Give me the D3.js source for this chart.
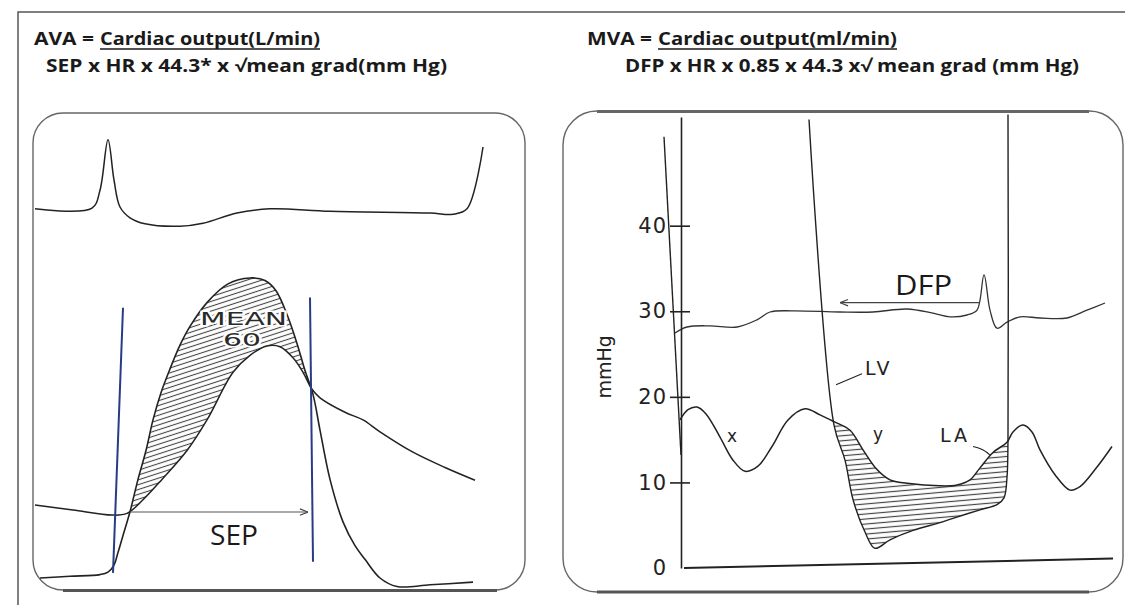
<!DOCTYPE html>
<html>
<head>
<meta charset="utf-8">
<script src="https://cdn.jsdelivr.net/npm/d3@7"></script>
<style>
  body { margin: 0; background: #fff; }
  svg { display: block; }
</style>
</head>
<body>
<svg id="chart" width="1125" height="605"></svg>
<script>
// ---- left panel (aortic stenosis), [time ms, value] ----
const ecgLeft = [[0,0.02],[114,0.03],[130,0.33],[146,1.17],[158,0.5],[170,0.05],[190,-0.13],[220,-0.23],[290,-0.27],[336,-0.22],[404,-0.05],[470,0.02],[590,-0.02],[790,-0.05],[836,-0.07],[864,0.02],[896,1.05]];
const lvLeft = [[10,10],[70,11],[130,12],[146,13.5],[158,17.6],[166,25],[176,35],[190,49],[206,68],[222,85],[236,103],[252,119],[270,133],[290,147],[310,158],[344,172],[386,183],[430,186.5],[460,185],[482,179],[504,165],[524,148],[540,132],[556,118],[570,97],[590,68],[616,43],[640,29],[660,21],[690,10],[724,5],[790,6],[876,7.6]];
const aorticLeft = [[0,53],[76,50],[154,47],[184,48],[216,56],[254,68],[304,85],[344,103],[396,131],[430,141],[464,146.5],[490,146],[516,139.5],[536,131],[554,121],[570,116],[620,107.5],[656,103],[690,96],[756,84],[820,75],[880,67.5]];
const ejectionMarks = [[176,169,156,13],[550,175,556,19.5]];   // t0,p0,t1,p1
const sepSpan = [190, 546, 48.8];

// ---- right panel (mitral stenosis) ----
const ecgRight = [[0,-0.3],[24,-0.2],[70,-0.18],[124,-0.2],[164,-0.08],[190,0.05],[236,0.07],[330,0.05],[396,0.05],[464,0.1],[516,0.03],[550,-0.03],[584,0],[604,0.08],[618,0.67],[630,0.08],[644,-0.22],[664,-0.12],[690,-0.03],[730,-0.05],[784,-0.05],[824,0.08],[860,0.2]];
const lvPrev = [[-22,50.4],[12,13.2]];
const lvRight = [[268,52.4],[318,16.7],[340,12.6],[356,8],[380,4.2],[400,2.3],[430,3.3],[476,4.4],[530,5.3],[556,5.8],[610,6.8],[644,7.4],[658,8.2],[664,10.6],[666,15],[666,53]];
const laRight = [[10,17.3],[26,18.5],[44,18.8],[62,18],[90,15.3],[116,12.6],[140,11.3],[166,11.9],[194,14.2],[226,17.3],[260,18.6],[290,17.9],[318,17.1],[350,16.1],[376,13.8],[404,11.5],[430,10.3],[464,9.9],[530,9.6],[564,9.7],[590,10.3],[610,11.7],[636,13.5],[664,14.7],[676,15.9],[696,16.7],[714,15.9],[730,13.8],[760,10.9],[790,9.1],[810,9.5],[844,11.8],[874,14.2]];
const baseLine = [[18,0],[876,1.1]];
const dfpSpan = [330, 610, 31];
const mmHgTicks = [0, 10, 20, 30, 40];

const svg = d3.select("#chart");
const ink = "#222";

// scales
const xL = d3.scaleLinear().domain([0, 1000]).range([35, 535]);
const yL = d3.scaleLinear().domain([0, 200]).range([595, 255]);
const yEL = d3.scaleLinear().domain([-1, 2]).range([270, 90]);
const xR = d3.scaleLinear().domain([0, 900]).range([675, 1125]);
const yR = d3.scaleLinear().domain([0, 52.7]).range([568, 117]);
const yER = d3.scaleLinear().domain([-1, 2]).range([375, 195]);

const curve = d3.curveCatmullRom.alpha(0.5);
const mkLine = (x, y) => d3.line().x(d => x(d[0])).y(d => y(d[1])).curve(curve);
const lineL = mkLine(xL, yL), lineEL = mkLine(xL, yEL);
const lineR = mkLine(xR, yR), lineER = mkLine(xR, yER);

// defs: hatches + arrow heads
const defs = svg.append("defs");
defs.append("pattern").attr("id", "hatchL").attr("patternUnits", "userSpaceOnUse")
  .attr("width", 6).attr("height", 4.6).attr("patternTransform", "rotate(-18)")
  .append("line").attr("x1", 0).attr("x2", 6).attr("y1", 2.3).attr("y2", 2.3)
  .attr("stroke", "#444").attr("stroke-width", 1.1);
defs.append("pattern").attr("id", "hatchR").attr("patternUnits", "userSpaceOnUse")
  .attr("width", 6).attr("height", 5).attr("patternTransform", "rotate(-5)")
  .append("line").attr("x1", 0).attr("x2", 6).attr("y1", 2.5).attr("y2", 2.5)
  .attr("stroke", "#444").attr("stroke-width", 1.2);
defs.append("marker").attr("id", "arrow").attr("viewBox", "0 0 10 10")
  .attr("refX", 10).attr("refY", 5).attr("markerWidth", 9).attr("markerHeight", 9)
  .attr("markerUnits", "userSpaceOnUse").attr("orient", "auto-start-reverse")
  .append("path").attr("d", "M1,1.5L10,5L1,8.5").attr("fill", "none").attr("stroke", "#444").attr("stroke-width", 1.3);

// outer frame
svg.append("path").attr("d", "M18,605V12H1125").attr("fill", "none").attr("stroke", "#555").attr("stroke-width", 1.5);

// headers
const hdr = svg.append("g").attr("font-family", "'Open Sans', sans-serif")
  .attr("font-weight", 700).attr("font-size", 17).attr("fill", "#1a1a1a");
const headers = [
  [34, 45, "AVA =", 60, false],
  [100, 45, "Cardiac output(L/min)", 220, true],
  [46, 72, "SEP x HR x 44.3* x \u221Amean grad(mm Hg)", 401, false],
  [587, 45, "MVA =", 65, false],
  [658, 45, "Cardiac output(ml/min)", 239, true],
  [625, 72, "DFP x HR x 0.85 x 44.3 x\u221A mean grad (mm Hg)", 454, false]
];
headers.forEach(([x, y, s, len, ul]) => {
  hdr.append("text").attr("x", x).attr("y", y).attr("textLength", len)
    .attr("lengthAdjust", "spacingAndGlyphs").text(s);
  if (ul) hdr.append("line").attr("x1", x).attr("x2", x + len).attr("y1", y + 4).attr("y2", y + 4)
    .attr("stroke", "#1a1a1a").attr("stroke-width", 1.4);
});

// panel boxes
svg.append("rect").attr("x", 33).attr("y", 113).attr("width", 492).attr("height", 477).attr("rx", 30)
  .attr("fill", "none").attr("stroke", "#666").attr("stroke-width", 1.4);
svg.append("line").attr("x1", 63).attr("x2", 497).attr("y1", 590.5).attr("y2", 590.5).attr("stroke", "#555").attr("stroke-width", 3);
svg.append("rect").attr("x", 563).attr("y", 111).attr("width", 560).attr("height", 481).attr("rx", 34)
  .attr("fill", "none").attr("stroke", "#666").attr("stroke-width", 1.4);
svg.append("line").attr("x1", 597).attr("x2", 1089).attr("y1", 111.5).attr("y2", 111.5).attr("stroke", "#666").attr("stroke-width", 3);
svg.append("line").attr("x1", 597).attr("x2", 1089).attr("y1", 592).attr("y2", 592).attr("stroke", "#555").attr("stroke-width", 3);

// ---------- left panel ----------
const gl = svg.append("g");
gl.append("path").attr("d", lineEL(ecgLeft)).attr("fill", "none").attr("stroke", ink).attr("stroke-width", 1.5);

// hatch between LV (above) and aorta (below)
const aoPath = lineL(aorticLeft);
defs.append("clipPath").attr("id", "aboveAo").append("path")
  .attr("d", aoPath + `L${xL(1000)},${yL(200)}L${xL(-20)},${yL(200)}L${xL(-20)},${yL(aorticLeft[0][1])}Z`);
const lvPath = lineL(lvLeft);
gl.append("path")
  .attr("d", lvPath + `L${xL(lvLeft[lvLeft.length - 1][0])},${yL(0)}L${xL(lvLeft[0][0])},${yL(0)}Z`)
  .attr("fill", "url(#hatchL)").attr("clip-path", "url(#aboveAo)");

gl.append("path").attr("d", aoPath).attr("fill", "none").attr("stroke", ink).attr("stroke-width", 1.5);
gl.append("path").attr("d", lvPath).attr("fill", "none").attr("stroke", ink).attr("stroke-width", 1.6);

gl.selectAll(".ej").data(ejectionMarks).join("line").attr("class", "ej")
  .attr("x1", d => xL(d[0])).attr("y1", d => yL(d[1])).attr("x2", d => xL(d[2])).attr("y2", d => yL(d[3]))
  .attr("stroke", "#283c86").attr("stroke-width", 2);

gl.append("line").attr("x1", xL(sepSpan[0])).attr("x2", xL(sepSpan[1]))
  .attr("y1", yL(sepSpan[2])).attr("y2", yL(sepSpan[2]))
  .attr("stroke", "#555").attr("stroke-width", 1.1).attr("marker-end", "url(#arrow)");

gl.append("text").attr("x", xL(350)).attr("y", yL(29.4)).attr("textLength", 48).attr("lengthAdjust", "spacingAndGlyphs")
  .attr("font-family", "'Open Sans', sans-serif").attr("font-size", 28).attr("fill", "#1a1a1a").text("SEP");

const meanTxt = gl.append("g").attr("font-family", "'DejaVu Sans', sans-serif").attr("font-size", 17)
  .attr("font-weight", 400).attr("fill", "#2a2a2a").attr("stroke", "#fff").attr("stroke-width", 3)
  .attr("paint-order", "stroke");
meanTxt.append("text").attr("x", xL(330)).attr("y", yL(158.8)).attr("textLength", 87)
  .attr("lengthAdjust", "spacingAndGlyphs").text("MEAN");
meanTxt.append("text").attr("x", xL(376)).attr("y", yL(146.5)).attr("textLength", 38)
  .attr("lengthAdjust", "spacingAndGlyphs").text("60");

// ---------- right panel ----------
const gr = svg.append("g");
gr.append("path").attr("d", lineER(ecgRight)).attr("fill", "none").attr("stroke", "#333").attr("stroke-width", 1.3);

const laPath = lineR(laRight);
defs.append("clipPath").attr("id", "belowLA").append("path")
  .attr("d", laPath + `L${xR(laRight[laRight.length - 1][0])},${yR(0)}L${xR(laRight[0][0])},${yR(0)}Z`);
const lvRPath = lineR(lvRight);
gr.append("path").attr("d", lvRPath + "Z").attr("fill", "url(#hatchR)").attr("clip-path", "url(#belowLA)");

gr.append("path").attr("d", lineR(lvPrev)).attr("fill", "none").attr("stroke", ink).attr("stroke-width", 1.4);
gr.append("path").attr("d", lvRPath).attr("fill", "none").attr("stroke", ink).attr("stroke-width", 1.4);
gr.append("path").attr("d", laPath).attr("fill", "none").attr("stroke", ink).attr("stroke-width", 1.5);
gr.append("path").attr("d", d3.line().x(d => xR(d[0])).y(d => yR(d[1]))(baseLine))
  .attr("fill", "none").attr("stroke", ink).attr("stroke-width", 2);

// y axis
const yAxis = d3.axisLeft(yR).tickValues(mmHgTicks).tickSizeInner(0).tickSizeOuter(0).tickPadding(14);
const gAx = gr.append("g").attr("transform", `translate(${xR(12)},0)`).call(yAxis);
gAx.select(".domain").attr("stroke", ink).attr("stroke-width", 1.6);
gAx.selectAll(".tick text").attr("font-family", "'DejaVu Sans', sans-serif").attr("font-size", 21)
  .attr("letter-spacing", 1).attr("fill", "#222");
gAx.selectAll(".tick").filter(d => d > 0).append("line")
  .attr("x1", -11).attr("x2", 9).attr("stroke", ink).attr("stroke-width", 1.6);

gr.append("text").attr("transform", `translate(611,${yR(23.5)}) rotate(-90)`).attr("text-anchor", "middle")
  .attr("font-family", "'DejaVu Sans', sans-serif").attr("font-size", 19).attr("fill", "#222").text("mmHg");

// DFP arrow + labels
gr.append("line").attr("x1", xR(dfpSpan[0])).attr("x2", xR(dfpSpan[1]))
  .attr("y1", yR(dfpSpan[2])).attr("y2", yR(dfpSpan[2]))
  .attr("stroke", "#444").attr("stroke-width", 1.3).attr("marker-start", "url(#arrow)");
gr.append("text").attr("x", xR(440)).attr("y", yR(31.9)).attr("textLength", 57).attr("lengthAdjust", "spacingAndGlyphs")
  .attr("font-family", "'Open Sans', sans-serif").attr("font-size", 28).attr("fill", "#1a1a1a").text("DFP");

const lab = gr.append("g").attr("font-family", "'DejaVu Sans', sans-serif").attr("fill", "#222");
lab.append("text").attr("x", xR(380)).attr("y", yR(22.5)).attr("font-size", 19).attr("letter-spacing", 3).text("LV");
lab.append("text").attr("x", xR(530)).attr("y", yR(14.7)).attr("font-size", 19).attr("letter-spacing", 3).text("LA");
lab.append("text").attr("x", xR(114)).attr("y", yR(14.7)).attr("font-size", 17).attr("text-anchor", "middle").text("x");
lab.append("text").attr("x", xR(406)).attr("y", yR(15)).attr("font-size", 17).attr("text-anchor", "middle").text("y");
gr.append("line").attr("x1", xR(322)).attr("y1", yR(21.4)).attr("x2", xR(374)).attr("y2", yR(22.7))
  .attr("stroke", ink).attr("stroke-width", 1.1);
gr.append("path").attr("d", `M${xR(596)},${yR(14.2)}Q${xR(616)},${yR(14)} ${xR(630)},${yR(13.2)}`)
  .attr("fill", "none").attr("stroke", ink).attr("stroke-width", 1.1);
</script>
</body>
</html>
